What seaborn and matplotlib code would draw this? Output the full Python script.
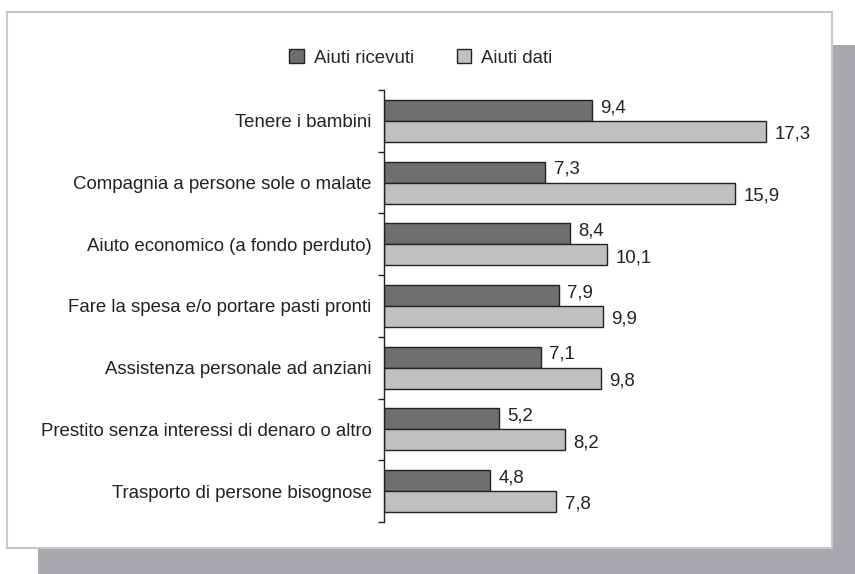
import pandas as pd
import matplotlib.pyplot as plt
import seaborn as sns
from matplotlib.patches import Rectangle

categories = [
    'Tenere i bambini',
    'Compagnia a persone sole o malate',
    'Aiuto economico (a fondo perduto)',
    'Fare la spesa e/o portare pasti pronti',
    'Assistenza personale ad anziani',
    'Prestito senza interessi di denaro o altro',
    'Trasporto di persone bisognose',
]
series = ['Aiuti ricevuti', 'Aiuti dati']
ricevuti = [9.4, 7.3, 8.4, 7.9, 7.1, 5.2, 4.8]
dati = [17.3, 15.9, 10.1, 9.9, 9.8, 8.2, 7.8]


def main():
    sns.set_style('white')
    plt.rcParams['font.family'] = ['Liberation Sans', 'DejaVu Sans']
    fs = 13.4

    df = pd.DataFrame({
        'cat': categories * 2,
        'serie': [series[0]] * len(categories) + [series[1]] * len(categories),
        'val': ricevuti + dati,
    })

    fig = plt.figure(figsize=(8.55, 5.74), dpi=100)

    # shadow and white panel behind the chart
    fig.patches.append(Rectangle((38 / 855, 0), 1, 1 - 45 / 574, transform=fig.transFigure,
                                 facecolor='#a8a9ac', edgecolor='none', zorder=-2))
    fig.patches.append(Rectangle((7 / 855, 1 - 548 / 574), 825 / 855, 536 / 574,
                                 transform=fig.transFigure, facecolor='white',
                                 edgecolor='#c8c8c8', linewidth=1.5, zorder=-1))

    ax = fig.add_axes([384 / 855, 1 - 522 / 574, 442 / 855, 432 / 574])
    ax.patch.set_alpha(0)

    sns.barplot(data=df, y='cat', x='val', hue='serie', order=categories, hue_order=series,
                palette=['#6f6f71', '#c0c0c3'], width=0.68, edgecolor='#222222',
                linewidth=1, ax=ax)

    # dark labels sit a bit high, light ones a bit low, as in the original
    for cont, dy in zip(ax.containers, [-2, 2]):
        texts = ax.bar_label(cont, labels=[f'{v:.1f}'.replace('.', ',') for v in cont.datavalues],
                             padding=6, fontsize=fs, color='#222222')
        for t in texts:
            x0, y0 = t.xyann
            t.xyann = (x0, y0 - dy)

    ax.set_xlim(0, 20)
    ax.set_ylim(6.5, -0.5)
    ax.set_xlabel('')
    ax.set_ylabel('')
    ax.set_xticks([])
    for s in ['top', 'right', 'bottom']:
        ax.spines[s].set_visible(False)
    ax.spines['left'].set_color('#222222')
    ax.spines['left'].set_linewidth(1)

    ax.set_yticks([i - 0.5 for i in range(len(categories) + 1)], minor=True)
    ax.tick_params(axis='y', which='minor', length=4, width=1, color='#222222', left=True)
    ax.tick_params(axis='y', which='major', length=0, pad=9, labelsize=fs, labelcolor='#222222')

    ax.get_legend().remove()
    handles, labels = ax.get_legend_handles_labels()
    fig.legend(handles, labels, loc='center', bbox_to_anchor=(0.492, 0.899), ncol=2,
               frameon=False, handlelength=0.8, handleheight=0.8, handletextpad=0.5,
               columnspacing=2.3, fontsize=fs)

    fig.savefig('out.png', dpi=100)
    plt.close(fig)


if __name__ == "__main__":
    main()
